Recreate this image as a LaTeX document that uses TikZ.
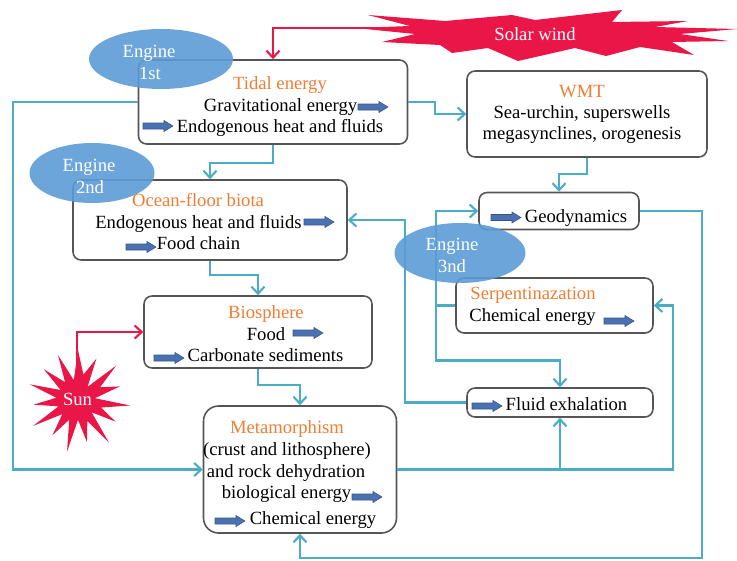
\documentclass[tikz,border=0pt]{standalone}
\usepackage{fontspec}
\setmainfont{Liberation Serif}
\usetikzlibrary{arrows.meta,shapes.geometric,calc,positioning}

\definecolor{flowcyan}{RGB}{75,172,198}
\definecolor{sunred}{RGB}{234,22,72}
\definecolor{engblue}{RGB}{91,155,213}
\definecolor{titleor}{RGB}{240,125,50}
\definecolor{boxgray}{RGB}{85,85,85}
\definecolor{blkblue}{RGB}{74,114,178}
\newcommand{\diagfont}{\fontsize{10.6}{12.7}\selectfont}

\begin{document}
\begin{tikzpicture}[x=0.02cm,y=-0.02cm,
    box/.style={draw=boxgray,line width=0.9pt,rounded corners=0.16cm,inner sep=0pt},
    flowline/.style={draw=flowcyan,line width=1.2pt},
    flow/.style={flowline,-{Straight Barb[length=1.4mm,width=2.6mm]}},
    redflow/.style={draw=sunred,line width=1.2pt,-{Straight Barb[length=1.4mm,width=2.6mm]}},
    engine/.style={ellipse,fill=engblue,fill opacity=0.9,inner sep=0pt},
    txt/.style={anchor=base,inner sep=0pt,font=\diagfont},
    ttl/.style={txt,text=titleor},
    wtxt/.style={txt,text=white},
    blkarrow/.pic={\filldraw[fill=blkblue,draw=blkblue!75!black,line width=0.3pt]
        (0,-3) -- (21,-3) -- (21,-5.5) -- (30,0) -- (21,5.5) -- (21,3) -- (0,3) -- cycle;}]
       \useasboundingbox (0,0) rectangle (737,561);

       % boxes
       \node[box,minimum width=5.38cm,minimum height=1.68cm] (tidal) at (273,102) {};
       \node[box,minimum width=4.8cm,minimum height=1.72cm] (wmt) at (587,114) {};
       \node[box,minimum width=5.48cm,minimum height=1.6cm] (ofb) at (210,220) {};
       \node[box,minimum width=4.56cm,minimum height=1.44cm] (bio) at (258,332) {};
       \node[box,minimum width=3.86cm,minimum height=2.54cm,rounded corners=0.3cm] (meta) at (300,469.5) {};
       \node[box,minimum width=3.2cm,minimum height=0.74cm] (geo) at (559,211) {};
       \node[box,minimum width=3.94cm,minimum height=1.1cm] (serp) at (554.5,305.5) {};
       \node[box,minimum width=3.72cm,minimum height=0.58cm] (fluid) at (560,402.5) {};

       \coordinate (windend) at (385,28);
       \coordinate (suntop) at (77,380);
       \coordinate (jn) at (436,305.5);

       % connectors
       \draw[redflow] (windend) -| (tidal.north);
       \draw[redflow] (suntop) |- (bio.west);

       \draw[flow] (tidal.south) -- ++(0,18) -| (ofb.north);
       \draw[flow] (tidal.east) -- ++(27,0) |- (wmt.west);
       \draw[flow] (wmt.south) -- ++(0,16) -| (geo.north);
       \draw[flow] (ofb.south) -- ++(0,14) -| (bio.north);
       \draw[flow] (bio.south) -- ++(0,16) -| (meta.north);
       \draw[flow] (tidal.west) -- ++(-125,0) |- (meta.west);
       \draw[flow] (fluid.west) -- ++(-61,0) |- (ofb.east);
       \draw[flowline] (serp.west) -- (jn);
       \draw[flow] (jn) |- (geo.west);
       \draw[flow] (jn) -- ++(0,55) -| (fluid.north);
       \draw[flow] (geo.east) -- ++(62,0) -- ++(0,347) -| (meta.south);
       \draw[flow] (meta.east) -- ++(276,0) |- (serp.east);
       \draw[flow] (meta.east -| fluid.south) -- (fluid.south);

       % solar wind and sun
       \fill[sunred] (355,28) -- (410,26) -- (368,15) -- (445,21) -- (512,15) -- (535,20)
           -- (622,10) -- (612,22) -- (688,21) -- (655,27) -- (737,29) -- (680,34)
           -- (728,41) -- (672,42) -- (694,55) -- (640,47) -- (606,56) -- (575,48)
           -- (518,61) -- (488,48) -- (452,53) -- (440,45) -- (382,42) -- (415,34) -- cycle;
       \fill[sunred,shift={(78,400)}] plot[samples at={0,...,29},variable=\t]
           ({270+\t*12}:{50-25*mod(\t,2)-4*mod(\t,4)/2+3*sin(\t*97)}) -- cycle;
       \node[wtxt] (wind) at (535,40) {Solar wind};
       \node[wtxt] (sun) at (77.5,405) {Sun};

       % engines
       \node[engine,minimum width=2.88cm,minimum height=1.2cm] (eng1) at (161,59) {};
       \node[engine,minimum width=2.5cm,minimum height=1.2cm] (eng2) at (92,173) {};
       \node[engine,minimum width=2.62cm,minimum height=1.2cm] (eng3) at (460,253) {};
       \node[wtxt] (eng1a) at (149,57) {Engine};
       \node[wtxt] (eng1b) at (150,79) {1st};
       \node[wtxt] (eng2a) at (89,171) {Engine};
       \node[wtxt] (eng2b) at (90,193) {2nd};
       \node[wtxt] (eng3a) at (452,250) {Engine};
       \node[wtxt] (eng3b) at (452,272) {3nd};

       % texts
       \node[ttl] (tidal-t) at (280,89) {Tidal energy};
       \node[txt] (tidal-1) at (280.5,111) {Gravitational energy};
       \node[txt] (tidal-2) at (280,132) {Endogenous heat and fluids};

       \node[ttl] (wmt-t) at (582,97) {WMT};
       \node[txt] (wmt-1) at (582,118) {Sea-urchin, superswells};
       \node[txt] (wmt-2) at (582,139) {megasynclines, orogenesis};

       \node[ttl] (ofb-t) at (198,206) {Ocean-floor biota};
       \node[txt] (ofb-1) at (198.5,228) {Endogenous heat and fluids};
       \node[txt] (ofb-2) at (198.5,249) {Food chain};

       \node[ttl] (bio-t) at (266,318) {Biosphere};
       \node[txt] (bio-1) at (266,340) {Food};
       \node[txt] (bio-2) at (265.5,361) {Carbonate sediments};

       \node[ttl] (meta-t) at (287,433) {Metamorphism};
       \node[txt] (meta-1) at (287,455) {(crust and lithosphere)};
       \node[txt] (meta-2) at (286,477) {and rock dehydration};
       \node[txt] (meta-3) at (286.5,498) {biological energy};
       \node[txt] (meta-4) at (313,524) {Chemical energy};

       \node[txt] (geo-1) at (576,222) {Geodynamics};
       \node[ttl] (serp-t) at (533,299) {Serpentinazation};
       \node[txt] (serp-1) at (532.5,321) {Chemical energy};
       \node[txt] (fluid-1) at (566.5,410) {Fluid exhalation};

       % small block arrows
       \pic at (358,107) {blkarrow};
       \pic at (143,126) {blkarrow};
       \pic at (304,222) {blkarrow};
       \pic at (126,247) {blkarrow};
       \pic at (293,333) {blkarrow};
       \pic at (154,358) {blkarrow};
       \pic at (352,497) {blkarrow};
       \pic at (215,521) {blkarrow};
       \pic at (491,217.5) {blkarrow};
       \pic at (604,321) {blkarrow};
       \pic at (472,406) {blkarrow};
     \end{tikzpicture}
\end{document}
